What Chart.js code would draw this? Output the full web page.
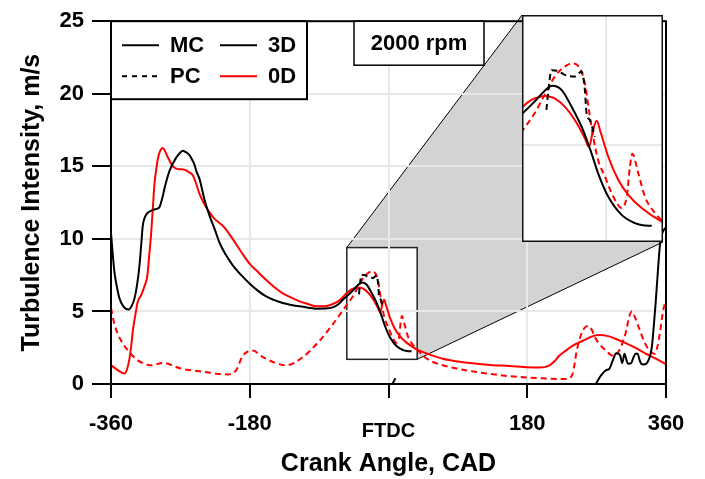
<!DOCTYPE html>
<html>
<head>
<meta charset="utf-8">
<script src="https://cdn.jsdelivr.net/npm/chart.js@4.4.1/dist/chart.umd.min.js"></script>
<style>
  body { margin: 0; background: #fff; }
  #wrap { position: relative; width: 705px; height: 479px; }
  #main { position: absolute; left: 0; top: 0; }
  #inset { position: absolute; left: 522px; top: 15px; }
</style>
</head>
<body>
<div id="wrap">
  <canvas id="main" width="705" height="479"></canvas>
  <canvas id="inset" width="141" height="227"></canvas>
</div>
<script>
// axes
const xTicks = [-360, -180, 0, 180, 360];
const xTickLabels = ['-360', '-180', 'FTDC', '180', '360'];
const yTicks = [0, 5, 10, 15, 20, 25];

// zoomed window shown in the inset (crank angle, m/s)
const zoomX = [-54.1, 37.2];
const zoomY = [1.7, 9.4];

// MC, 3D (black solid)
const mc3dAngle = [-360, -357.5, -355.5, -352, -349, -344, -337, -333, -329.5, -326, -323, -320.5, -318.8, -316, -312.3,
  -305, -299, -297, -293, -290.5, -284, -275.4, -270, -266.9, -262, -258, -255.2, -252, -249.5, -245, -238.7, -232.2,
  -225.7, -219.3, -211, -202, -191, -180.3, -170, -158.7, -148, -137, -126, -115.5, -104, -93.8, -83, -72.3, -65,
  -59.3, -53, -46, -40, -34.5, -28.5, -22, -15.5, -10.2, -4.8, 1.7, 10.4, 19, 24, 29.9,
  31, 5, 9,
  12, 269.4, 276, 282.4, 286.7, 291, 295.4, 298, 300.6, 303.2, 306.2, 308.5, 310.5, 314.9, 317.9, 321, 323.4, 325.5,
  327.8, 331, 334.3, 337, 339.5, 341.5, 342.9, 346.4, 349.4, 352.5, 356, 360];
const mc3dValue = [10.4, 8.8, 7.7, 6.6, 5.9, 5.35, 5.13, 5.4, 5.9, 6.9, 8.2, 9.8, 10.9, 11.5, 11.8,
  12.0, 12.1, 12.2, 12.9, 13.5, 14.7, 15.6, 15.95, 16.08, 15.95, 15.75, 15.5, 15.15, 14.7, 14.1, 12.7, 11.6,
  10.7, 9.75, 8.9, 8.18, 7.5, 6.93, 6.45, 6.03, 5.78, 5.58, 5.45, 5.35, 5.26, 5.19, 5.2, 5.28, 5.5,
  5.8, 6.1, 6.46, 6.8, 7.0, 6.86, 6.29, 5.61, 4.88, 4.03, 3.24, 2.62, 2.34, 2.27, 2.25,
  null, 0.0, 0.4,
  null, 0.05, 0.61, 0.95, 1.06, 1.63, 2.12, 2.1, 1.96, 1.44, 2.08, 1.7, 1.4, 1.44, 1.85, 2.1, 2.08, 1.7,
  1.4, 1.35, 1.4, 1.6, 1.96, 2.5, 3.2, 5.47, 7.72, 9.76, 10.5, 10.8];

// PC, 3D (black dashed)
const pc3dAngle = [-38.3, -37.2, -35, -30.7, -26.4, -19.9, -15.5, -13.4, -12.3, -10.2, -6.9];
const pc3dValue = [6.18, 6.75, 7.53, 7.5, 7.37, 7.31, 7.48, 6.86, 6.07, 5.84, 5.27];

// MC, 0D (red solid)
const mc0dAngle = [-360, -351.2, -342.5, -337.3, -334, -331.7, -328, -325.2, -321, -318.8, -315.5, -313, -310.5, -307.9,
  -305.5, -303.6, -301, -299.3, -296, -292.8, -289.5, -286.3, -281, -277.6, -271, -264.7, -259, -253.9, -249.5, -245.2,
  -240, -234.4, -226, -219.3, -212.8, -202, -191, -180.3, -169, -158.7, -148, -137.1, -126, -115.5, -104, -93.8, -83,
  -72.3, -63, -54.1, -48, -43, -39.4, -36, -32.9, -26.4, -19.9, -13.4, -10.8, -8, -5.8, -3, 1.7, 8.2, 14.7, 23.4, 36.4,
  40.2, 55, 70.4, 90, 113.8, 135, 157, 180, 195.9, 208.9, 215, 221.8, 230, 239.1, 256.5, 265, 273.7, 285, 295, 308.4,
  320, 334.3, 345, 360];
const mc0dValue = [1.3, 0.95, 0.72, 1.4, 2.5, 3.66, 4.9, 5.69, 6.1, 6.4, 6.9, 7.4, 8.8, 10.4,
  12.3, 13.8, 14.9, 15.5, 16.1, 16.26, 16.0, 15.63, 15.1, 14.9, 14.8, 14.77, 14.6, 14.39, 13.8, 13.1,
  12.5, 12.0, 11.4, 11.1, 10.77, 9.98, 9.1, 8.29, 7.7, 7.16, 6.67, 6.25, 5.95, 5.69, 5.5, 5.35, 5.35,
  5.51, 5.78, 6.27, 6.52, 6.62, 6.65, 6.63, 6.57, 6.29, 5.84, 5.22, 4.93, 5.5, 5.81, 5.39, 4.6, 3.81, 3.3, 2.85, 2.39,
  2.3, 2.0, 1.74, 1.55, 1.4, 1.3, 1.24, 1.15, 1.13, 1.29, 1.55, 1.96, 2.3, 2.64, 3.09, 3.3, 3.37, 3.3, 3.1, 2.8,
  2.5, 2.08, 1.8, 1.36];

// PC, 0D (red dashed)
const pc0dAngle = [-360, -355.5, -346.8, -336, -325.2, -307.9, -292.8, -269, -238.7, -217, -208.5, -197.6, -189, -176,
  -163, -132.7, -111.2, -89.5, -72.3, -54.9, -45.9, -39.4, -32.9, -26.4, -21, -16.7, -13.4, -10.8, -8, -4.8, -0.4, 5,
  10.4, 13.7, 15.8, 17.3, 21.2, 25.5, 32, 36.4, 44, 53.2, 70.4, 113.8, 157, 200.2, 230.5, 236, 239, 241.5, 243.5, 250,
  255, 259.5, 264, 268, 273.7, 282, 291, 298, 304, 308.4, 312, 315.7, 319, 325.6, 332, 338.6, 345.1, 349, 352.5, 355.5,
  358.1, 360];
const pc0dValue = [5.24, 4.11, 2.98, 2.19, 1.63, 1.29, 1.45, 1.06, 0.83, 0.68, 0.66, 0.95, 1.96, 2.3,
  1.85, 1.29, 1.85, 2.98, 4.11, 5.4, 6.07, 6.69, 7.31, 7.65, 7.76, 7.59, 7.08, 6.18, 5.27, 4.48, 3.92, 3.24,
  2.85, 3.24, 4.26, 4.69, 4.03, 3.24, 2.68, 2.43, 2.0, 1.63, 1.29, 0.83, 0.54, 0.39, 0.34, 0.45, 0.72, 1.4, 2.08, 3.43,
  3.9, 4.0, 3.7, 3.2, 2.75, 2.3, 1.96, 2.2, 2.9, 3.66, 4.6, 5.0, 4.7, 3.77, 2.9, 2.3, 2.08, 2.6, 3.66, 4.8,
  5.47, 5.8];

const legendLabels = ['MC', '3D', 'PC', '0D'];
const annotationText = '2000 rpm';

const FONT = "'Liberation Sans', Arial, sans-serif";
const INSET = { left: 522, top: 15, width: 141, height: 227 };
const DASH = [6, 4];

function toPoints(xs, ys) {
  return xs.map((x, i) => ({ x: x, y: ys[i] }));
}

function makeDatasets() {
  return [
    { label: 'MC 3D', data: toPoints(mc3dAngle, mc3dValue), borderColor: '#000' },
    { label: 'PC 3D', data: toPoints(pc3dAngle, pc3dValue), borderColor: '#000', borderDash: DASH },
    { label: 'MC 0D', data: toPoints(mc0dAngle, mc0dValue), borderColor: '#ff0000' },
    { label: 'PC 0D', data: toPoints(pc0dAngle, pc0dValue), borderColor: '#ff0000', borderDash: DASH }
  ];
}

const lineElements = {
  point: { radius: 0 },
  line: { borderWidth: 2, cubicInterpolationMode: 'monotone', fill: false }
};

// grey wedge linking the small window to the inset
const zoomLink = {
  id: 'zoomLink',
  beforeDraw(chart) {
    const { ctx, scales: { x, y } } = chart;
    const l = x.getPixelForValue(zoomX[0]), r = x.getPixelForValue(zoomX[1]);
    const t = y.getPixelForValue(zoomY[1]), b = y.getPixelForValue(zoomY[0]);
    const L = INSET.left, T = INSET.top, R = INSET.left + INSET.width, B = INSET.top + INSET.height;
    ctx.save();
    ctx.fillStyle = '#d3d3d3';
    ctx.beginPath();
    ctx.moveTo(l, t);
    ctx.lineTo(L, T);
    ctx.lineTo(R, T);
    ctx.lineTo(R, B);
    ctx.lineTo(r, b);
    ctx.lineTo(r, t);
    ctx.closePath();
    ctx.fill();
    ctx.strokeStyle = '#000';
    ctx.lineWidth = 1;
    ctx.beginPath();
    ctx.moveTo(l, t); ctx.lineTo(L, T);
    ctx.moveTo(r, b); ctx.lineTo(R, B);
    ctx.stroke();
    ctx.lineWidth = 1.5;
    ctx.strokeStyle = '#222';
    ctx.strokeRect(l, t, r - l, b - t);
    ctx.restore();
  }
};

// frame, legend and speed label
const frame = {
  id: 'frame',
  afterDraw(chart) {
    const { ctx, chartArea: a } = chart;
    ctx.save();
    ctx.strokeStyle = '#000';
    ctx.lineWidth = 2;
    ctx.strokeRect(a.left, a.top, a.right - a.left, a.bottom - a.top);

    // legend box
    const lx = a.left, ly = a.top, lw = 196, lh = 78;
    ctx.fillStyle = '#fff';
    ctx.fillRect(lx, ly, lw, lh);
    ctx.strokeRect(lx, ly, lw, lh);
    const rows = [ly + 24, ly + 55];
    const cols = [lx + 11, lx + 109];
    const styles = [
      { color: '#000', dash: [] }, { color: '#000', dash: [] },
      { color: '#000', dash: [5, 5] }, { color: '#ff0000', dash: [] }
    ];
    ctx.font = 'bold 22px ' + FONT;
    ctx.textBaseline = 'middle';
    ctx.textAlign = 'left';
    legendLabels.forEach((txt, i) => {
      const cx = cols[i % 2], cy = rows[Math.floor(i / 2)];
      ctx.strokeStyle = styles[i].color;
      ctx.setLineDash(styles[i].dash);
      ctx.lineWidth = 2;
      ctx.beginPath();
      ctx.moveTo(cx, cy);
      ctx.lineTo(cx + 37, cy);
      ctx.stroke();
      ctx.setLineDash([]);
      ctx.fillStyle = '#000';
      ctx.fillText(txt, cx + 48, cy + 1);
    });

    // speed box
    ctx.strokeStyle = '#000';
    ctx.lineWidth = 1.5;
    ctx.fillStyle = '#fff';
    ctx.fillRect(354, a.top, 130, 44);
    ctx.strokeRect(354, a.top, 130, 44);
    ctx.fillStyle = '#000';
    ctx.textAlign = 'center';
    ctx.fillText(annotationText, 419, a.top + 23);
    ctx.restore();
  }
};

const gridColor = '#e8e8e8';

new Chart(document.getElementById('main'), {
  type: 'line',
  data: { datasets: makeDatasets() },
  options: {
    responsive: false,
    animation: false,
    layout: { padding: { top: 15, right: 39, left: 0, bottom: 0 } },
    elements: lineElements,
    plugins: { legend: { display: false }, tooltip: { enabled: false } },
    scales: {
      x: {
        type: 'linear',
        min: -360,
        max: 360,
        afterBuildTicks: s => { s.ticks = xTicks.map(v => ({ value: v })); },
        afterFit: s => { s.height = 95; },
        ticks: {
          autoSkip: false,
          maxRotation: 0,
          color: '#000',
          padding: 13,
          // FTDC is smaller and sits a little lower than the numbers
          font: c => (c.tick && c.tick.value === 0)
            ? { family: FONT, weight: 'bold', size: 20, lineHeight: 2.05 }
            : { family: FONT, weight: 'bold', size: 22 },
          callback: v => xTickLabels[xTicks.indexOf(v)]
        },
        grid: {
          color: c => (c.tick && Math.abs(c.tick.value) === 360) ? 'rgba(0,0,0,0)' : gridColor,
          lineWidth: 2,
          tickColor: '#000',
          tickLength: 14,
          tickWidth: 2
        },
        border: { color: '#000', width: 2 },
        title: {
          display: true,
          text: 'Crank Angle, CAD',
          color: '#000',
          font: { family: FONT, weight: 'bold', size: 25 },
          padding: { top: 0, bottom: 0 }
        }
      },
      y: {
        type: 'linear',
        min: 0,
        max: 25,
        afterBuildTicks: s => { s.ticks = yTicks.map(v => ({ value: v })); },
        afterFit: s => { s.width = 111; },
        ticks: {
          color: '#000',
          padding: 8,
          font: { family: FONT, weight: 'bold', size: 22 }
        },
        grid: {
          color: c => (c.tick && (c.tick.value === 0 || c.tick.value === 25)) ? 'rgba(0,0,0,0)' : gridColor,
          lineWidth: 2,
          tickColor: '#000',
          tickLength: 19,
          tickWidth: 2
        },
        border: { color: '#000', width: 2 },
        title: {
          display: true,
          text: 'Turbulence Intensity, m/s',
          color: '#000',
          font: { family: FONT, weight: 'bold', size: 25 },
          padding: { top: 17, bottom: 0 }
        }
      }
    }
  },
  plugins: [zoomLink, frame]
});

// inset with the same data over the zoom window
const insetFrame = {
  id: 'insetFrame',
  beforeDraw(chart) {
    const { ctx } = chart;
    ctx.save();
    ctx.fillStyle = '#fff';
    ctx.fillRect(0, 0, chart.width, chart.height);
    ctx.restore();
  },
  afterDraw(chart) {
    const { ctx } = chart;
    ctx.save();
    ctx.strokeStyle = '#111';
    ctx.lineWidth = 1.5;
    ctx.strokeRect(0.75, 0.75, chart.width - 1.5, chart.height - 1.5);
    ctx.restore();
  }
};

new Chart(document.getElementById('inset'), {
  type: 'line',
  data: { datasets: makeDatasets() },
  options: {
    responsive: false,
    animation: false,
    layout: { padding: 0 },
    elements: lineElements,
    plugins: { legend: { display: false }, tooltip: { enabled: false } },
    scales: {
      x: {
        type: 'linear',
        min: zoomX[0],
        max: zoomX[1],
        afterBuildTicks: s => { s.ticks = [{ value: 0 }]; },
        afterFit: s => { s.height = 0; },
        ticks: { display: false },
        grid: { color: gridColor, lineWidth: 2, drawTicks: false },
        border: { display: false }
      },
      y: {
        type: 'linear',
        min: zoomY[0],
        max: zoomY[1],
        afterBuildTicks: s => { s.ticks = [{ value: 5 }]; },
        afterFit: s => { s.width = 0; },
        ticks: { display: false },
        grid: { color: gridColor, lineWidth: 2, drawTicks: false },
        border: { display: false }
      }
    }
  },
  plugins: [insetFrame]
});
</script>
</body>
</html>
